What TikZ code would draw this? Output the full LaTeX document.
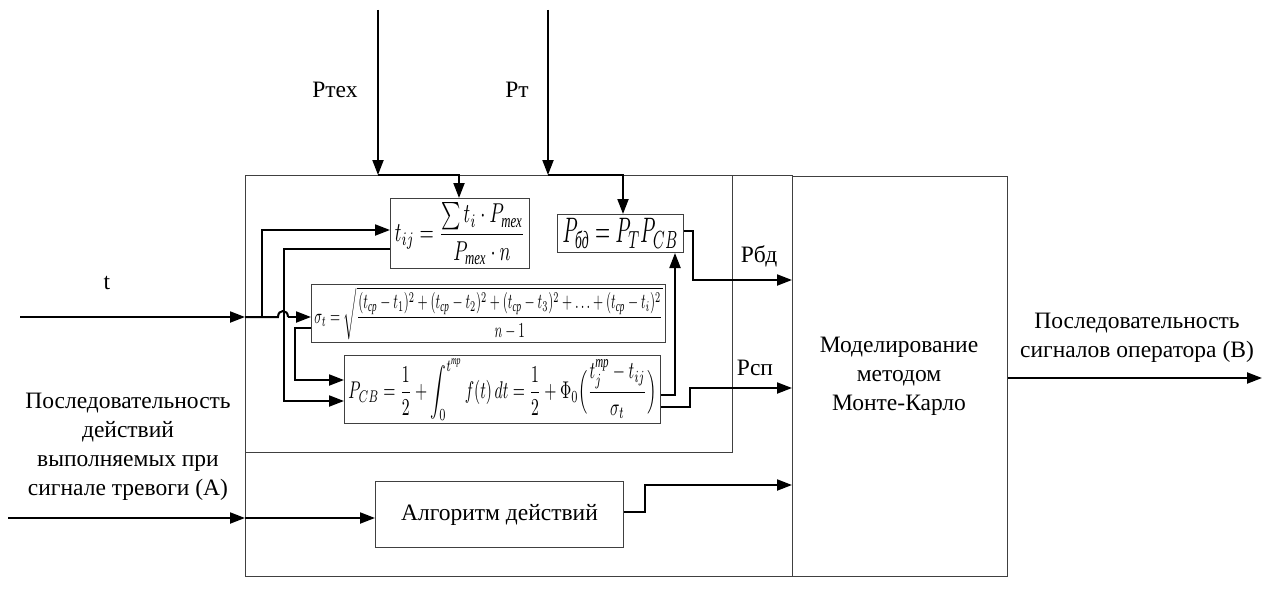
\documentclass[tikz,border=0pt]{standalone}
\usepackage{fontspec}
\usepackage{amsmath}
\usepackage{graphicx}
\setmainfont{Liberation Serif}
\usetikzlibrary{arrows.meta}
\newcommand{\ct}[1]{\text{\itshape #1}}
\begin{document}
\begin{tikzpicture}[x=1pt,y=-1pt,
  box/.style={draw=black!75,line width=1pt,inner sep=0pt},
  con/.style={line width=2pt,-{Triangle[length=15pt,width=11pt]}},
  ln/.style={line width=2pt},
  lbl/.style={font=\fontsize{23.5}{29}\selectfont,align=center}]
\useasboundingbox (0,0) rectangle (1271,599);
% frames
\draw[line width=1pt,black!75] (245,175) rectangle (792,576);
\draw[line width=1pt,black!75] (245,175) rectangle (732,452);
\node[box,minimum width=215pt,minimum height=400pt,anchor=north west] (mc) at (792,176) {};
\node[lbl,text width=214pt] at (899,376) {Моделирование\\методом\\Монте-Карло};
% formula boxes
\node[box,minimum width=139pt,minimum height=70pt,anchor=north west] (tij) at (390,198) {};
\node at (tij.center) {\resizebox*{130pt}{62pt}{$\displaystyle t_{ij}=\frac{\sum t_i\cdot P_{\ct{тех}}}{P_{\ct{тех}}\cdot n}$}};
\node[box,minimum width=126pt,minimum height=38pt,anchor=north west] (pbd) at (557,214) {};
\node at (pbd.center) {\resizebox*{116pt}{30pt}{$P_{\ct{бд}}=P_T P_{CB}$}};
\node[box,minimum width=354pt,minimum height=58pt,anchor=north west] (sig) at (311,284) {};
\node at (sig.center) {\resizebox*{348pt}{52pt}{$\displaystyle \sigma_t=\sqrt{\frac{(t_{\ct{ср}}-t_1)^2+(t_{\ct{ср}}-t_2)^2+(t_{\ct{ср}}-t_3)^2+\ldots+(t_{\ct{ср}}-t_i)^2}{n-1}}$}};
\node[box,minimum width=316pt,minimum height=68pt,anchor=north west] (pcb) at (344,355) {};
\node at (pcb.center) {\resizebox*{308pt}{62pt}{$\displaystyle P_{CB}=\frac12+\int_0^{t^{\ct{тр}}}f(t)\,dt=\frac12+\Phi_0\Bigl(\frac{t_j^{\ct{тр}}-t_{ij}}{\sigma_t}\Bigr)$}};
\node[box,minimum width=248pt,minimum height=66pt,anchor=north west] (alg) at (375,481) {};
\node[lbl] at (alg.center) {Алгоритм действий};
% texts
\node[lbl] at (107,283) {t};
\node[lbl] at (335,90) {Ртех};
\node[lbl] at (517,90) {Рт};
\node[lbl] at (759,256) {Рбд};
\node[lbl] at (755,368) {Рсп};
\node[lbl] at (1137,338) {Последовательность\\сигналов оператора (B)};
\node[lbl] at (128,447) {Последовательность\\действий\\выполняемых при\\сигнале тревоги (A)};
% coordinates
\coordinate (in) at (20,317);
\coordinate (ptex) at (378,10);
\coordinate (pt) at (548,10);
\coordinate (ain) at (8,518);
\coordinate (out) at (1262,378);
% top inputs
\draw[con] (ptex) -- (378,175);
\draw[con] (378,175) -| (tij.north -| 459,0);
\draw[con] (pt) -- (548,175);
\draw[con] (548,175) -| (pbd.north -| 623,0);
% t input
\draw[con] (in) -- (245,317);
\draw[ln] (245,317) -- (278,317) .. controls (278,309) and (288,309) .. (288,317);
\draw[con] (288,317) -- (sig.west |- 0,317);
\draw[con] (262,317) |- (tij.west |- 0,230);
\draw[con] (tij.west |- 0,249) -| (284,401) -- (pcb.west |- 0,401);
\draw[con] (sig.west |- 0,328) -| (295,380) -- (pcb.west |- 0,380);
\draw[con] (pcb.east |- 0,395) -| (pbd.south -| 675,0);
\draw[con] (pcb.east |- 0,407) -| (690,388) -- (mc.west |- 0,388);
\draw[con] (pbd.east |- 0,231) -| (693,280) -- (mc.west |- 0,280);
% algorithm
\draw[con] (ain) -- (245,518);
\draw[con] (245,518) -- (alg.west |- 0,518);
\draw[con] (alg.east |- 0,512) -| (645,485) -- (mc.west |- 0,485);
\draw[con] (mc.east |- 0,378) -- (out);
\end{tikzpicture}
\end{document}
